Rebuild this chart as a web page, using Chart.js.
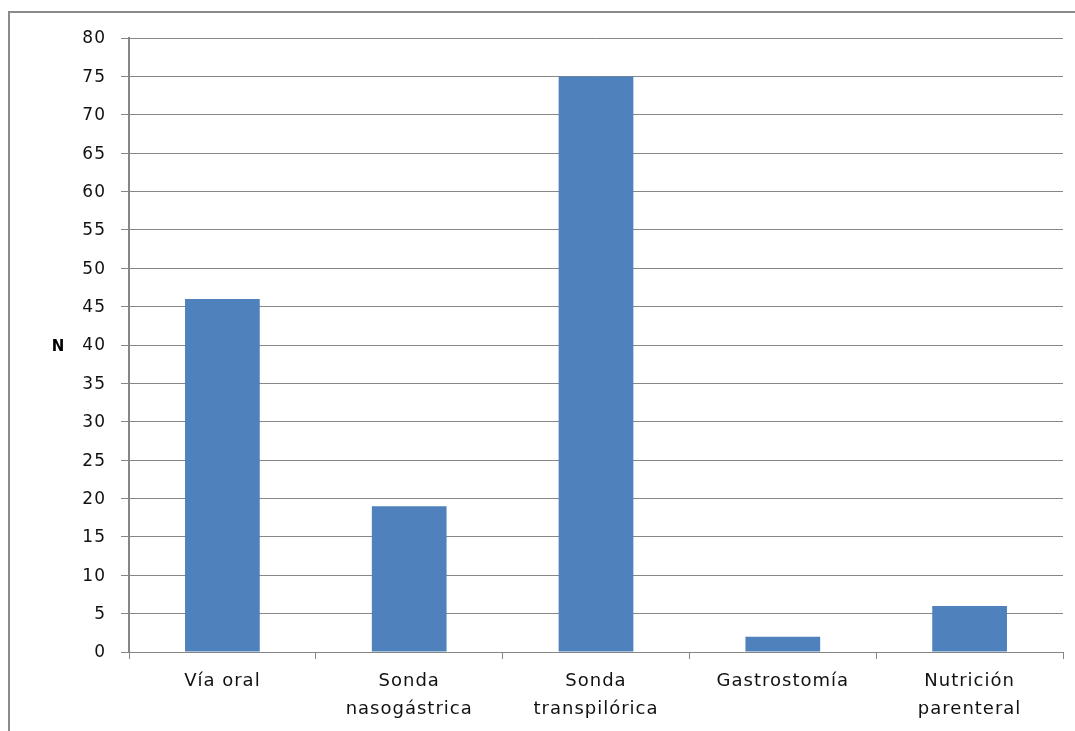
<!DOCTYPE html>
<html>
<head>
<meta charset="utf-8">
<script src="https://cdn.jsdelivr.net/npm/chart.js@4/dist/chart.umd.min.js"></script>
<style>
  html, body { margin: 0; padding: 0; background: #fff; overflow: hidden; }
  #wrap { position: relative; width: 1075px; height: 731px; }
  #frame { position: absolute; left: 8px; top: 11px; width: 1100px; height: 760px;
           border: 2px solid #8a8a8a; box-sizing: border-box; }
  #chartBox { position: absolute; left: 0; top: 0; width: 1075px; height: 731px; }
</style>
</head>
<body>
<div id="wrap">
  <div id="frame"></div>
  <div id="chartBox"><canvas id="chart"></canvas></div>
</div>
<script>
const categories = [
  "Vía oral",
  ["Sonda", "nasogástrica"],
  ["Sonda", "transpilórica"],
  "Gastrostomía",
  ["Nutrición", "parenteral"]
];
const counts = [46, 19, 75, 2, 6];
const yMin = 0;
const yMax = 80;
const yStep = 5;
const yTitle = "N";

const gridColor = "#868686";
Chart.defaults.font.family = "'DejaVu Sans', Verdana, sans-serif";
Chart.defaults.color = "#111";

// the original labels are set a bit wider than DejaVu;
// canvas resizes reset the context, so set it again each pass
const spacingPlugin = {
  id: "spacing",
  beforeLayout(chart) { chart.ctx.letterSpacing = "1px"; },
  beforeDraw(chart) { chart.ctx.letterSpacing = "1px"; }
};

// horizontal "N" beside the value axis
const yTitlePlugin = {
  id: "yTitle",
  afterDraw(chart) {
    const c = chart.ctx;
    const area = chart.chartArea;
    c.save();
    c.letterSpacing = "0px";
    c.font = "bold 15px 'DejaVu Sans', sans-serif";
    c.fillStyle = "#000";
    c.textAlign = "center";
    c.textBaseline = "middle";
    c.fillText(yTitle, area.left - 71, (area.top + area.bottom) / 2 + 2);
    c.restore();
  }
};

const ctx = document.getElementById("chart").getContext("2d");
new Chart(ctx, {
  type: "bar",
  data: {
    labels: categories,
    datasets: [{
      data: counts,
      backgroundColor: "#4F81BD",
      borderWidth: 0,
      barPercentage: 0.4,
      categoryPercentage: 1.0
    }]
  },
  options: {
    responsive: true,
    maintainAspectRatio: false,
    animation: false,
    layout: { padding: { top: 38, right: 12, bottom: 0, left: 0 } },
    plugins: {
      legend: { display: false },
      tooltip: { enabled: false }
    },
    scales: {
      x: {
        grid: {
          display: true,
          drawOnChartArea: false,
          drawTicks: true,
          tickLength: 7,
          color: gridColor,
          offset: true
        },
        border: { display: true, color: gridColor, width: 1 },
        ticks: {
          font: { size: 18, lineHeight: 1.55 },
          padding: 8,
          maxRotation: 0,
          autoSkip: false
        },
        afterFit(scale) { scale.height = 79; }
      },
      y: {
        min: yMin,
        max: yMax,
        grid: {
          color: gridColor,
          tickLength: 8,
          drawTicks: true
        },
        border: { display: true, color: gridColor, width: 2 },
        ticks: {
          stepSize: yStep,
          font: { size: 17 },
          padding: 15,
          labelOffset: 1
        },
        afterFit(scale) { scale.width = 129; }
      }
    }
  },
  plugins: [spacingPlugin, yTitlePlugin]
});
</script>
</body>
</html>
